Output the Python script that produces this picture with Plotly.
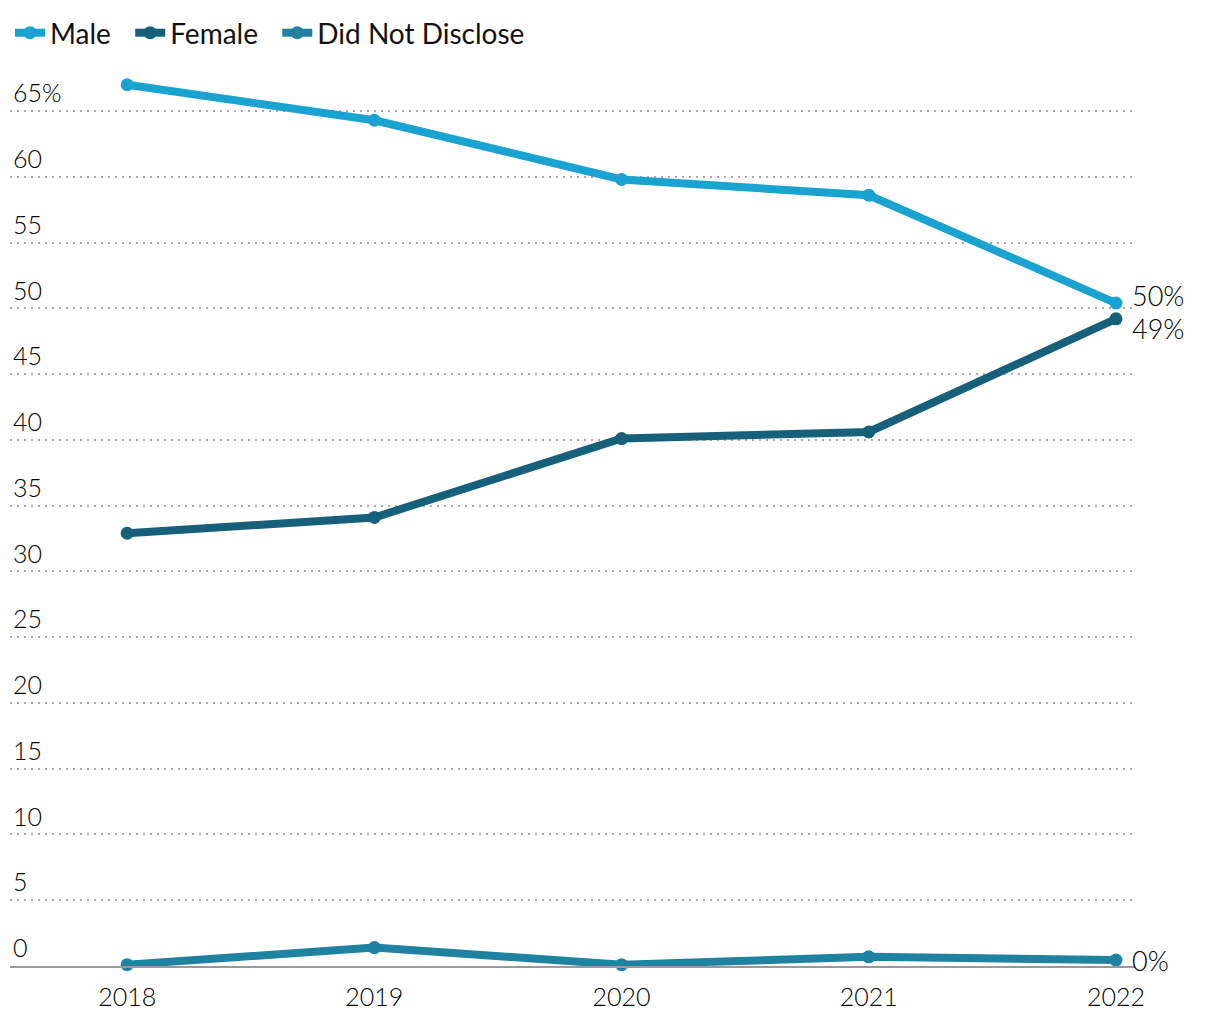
import plotly.graph_objects as go

years = [2018, 2019, 2020, 2021, 2022]
male = [67.0, 64.3, 59.8, 58.6, 50.4]
female = [32.9, 34.1, 40.1, 40.6, 49.2]
did_not_disclose = [0.1, 1.4, 0.1, 0.7, 0.45]
series_names = ["Male", "Female", "Did Not Disclose"]
colors = ["#1aa3d1", "#17607a", "#1f82a0"]
end_labels = ["50%", "49%", "0%"]
y_ticks = [0, 5, 10, 15, 20, 25, 30, 35, 40, 45, 50, 55, 60, 65]
y_tick_text = ["0", "5", "10", "15", "20", "25", "30", "35", "40", "45", "50", "55", "60", "65%"]

FONT = "Lato"
PAD = "&nbsp;&nbsp;"
fig = go.Figure()
for name, vals, col in zip(series_names, [male, female, did_not_disclose], colors):
    fig.add_trace(go.Scatter(
        x=years, y=vals, name=name + PAD, mode="lines+markers",
        line=dict(color=col, width=8), marker=dict(color=col, size=13),
        cliponaxis=False,
    ))

label_y = [male[-1], female[-1], did_not_disclose[-1]]
label_shift = [8, -10, 0]
for txt, yv, ys in zip(end_labels, label_y, label_shift):
    fig.add_annotation(x=years[-1], y=yv, text=txt, showarrow=False,
                       xanchor="left", yanchor="middle", xshift=14, yshift=ys,
                       font=dict(family=FONT, size=27, color="#000", weight=300))

fig.update_layout(
    width=1220, height=1020,
    margin=dict(l=2, r=93, t=57, b=62),
    plot_bgcolor="white", paper_bgcolor="white",
    font=dict(family=FONT, size=24, color="#111"),
    showlegend=True,
    legend=dict(orientation="h", x=0.0, y=1.0, xanchor="left", yanchor="top",
                yref="container", font=dict(family=FONT, size=28, color="#111"),
                itemwidth=30, traceorder="normal"),
    xaxis=dict(range=[2017.526, 2022.077], tickvals=years, ticktext=[str(y) for y in years],
               showgrid=False, zeroline=False, showline=True, linecolor="#999", linewidth=2,
               ticks="", ticklabelstandoff=8,
               tickfont=dict(size=25, color="#000", weight=300)),
    yaxis=dict(range=[0, 68.5], tickvals=y_ticks, ticktext=y_tick_text,
               ticklabelposition="inside top", showgrid=True, gridcolor="#aaa",
               griddash="2px,5px", gridwidth=1.5, zeroline=False, showline=False, ticks="",
               tickfont=dict(size=25, color="#000", weight=300)),
)
fig.write_html("out.html")
